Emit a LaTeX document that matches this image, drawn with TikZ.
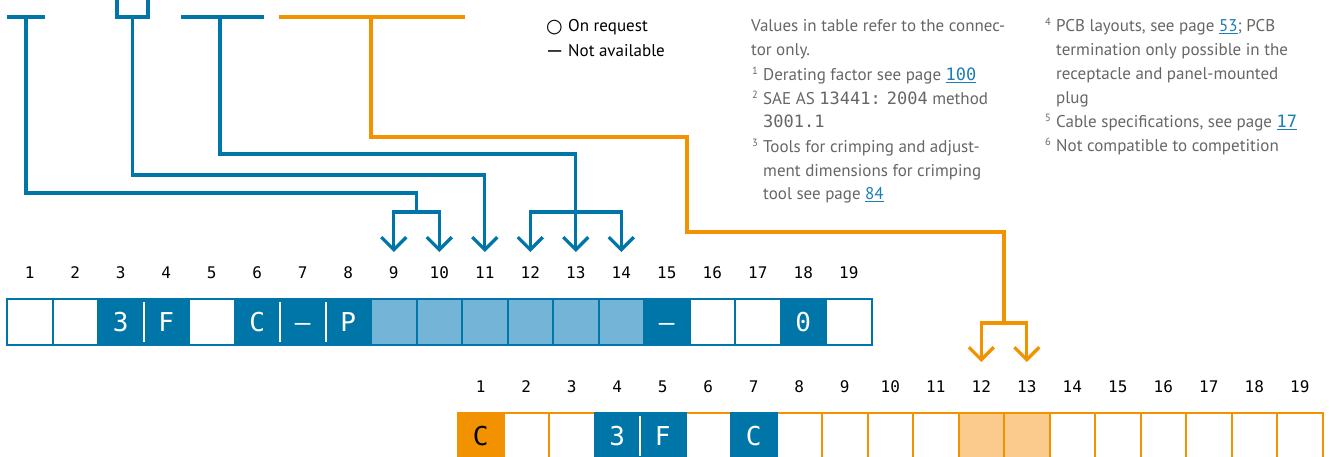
\documentclass[tikz,border=0pt]{standalone}
\usepackage{fontspec}
\setmainfont{PT Sans}
\newfontfamily\monofont{DejaVu Sans Mono}
\newfontfamily\symfont{DejaVu Sans}
\usetikzlibrary{arrows.meta}
\definecolor{dblue}{HTML}{0076A8}
\definecolor{lblue}{HTML}{74B4D6}
\definecolor{orng}{HTML}{F39200}
\definecolor{lorng}{HTML}{FACB8C}
\definecolor{gtext}{HTML}{666666}
\definecolor{lnk}{HTML}{1B7DB5}
\newcommand\myfnmark[1]{\makebox[11pt][l]{\raisebox{6.5pt}{\fontsize{10.5}{10.5}\selectfont #1}}}
\newcommand\mylink[1]{\textcolor{lnk}{\underline{#1}}}
\begin{document}
\begin{tikzpicture}[x=1pt,y=-1pt,
  conn/.style={line width=3.2pt},
  bconn/.style={conn,draw=dblue},
  oconn/.style={conn,draw=orng},
  arr/.style={-{Straight Barb[length=12.5pt,width=25pt,sharp]}},
  cell/.style={minimum width=45.5pt,minimum height=46pt,inner sep=0pt,outer sep=0pt,
    line width=2pt,font=\monofont\fontsize{26}{26}\selectfont,text=white,
    text height=19pt,text depth=0pt},
  bcell/.style={cell,draw=dblue},
  ocell/.style={cell,draw=orng},
  num/.style={inner sep=0pt,font=\monofont\fontsize{16}{16}\selectfont,text=black},
  sep/.style={draw=white,line width=2pt},
  fn/.style={anchor=base west,inner sep=0pt,text=gtext,font=\fontsize{17}{19}\selectfont},
  leg/.style={anchor=base west,inner sep=0pt,text=black,font=\fontsize{17}{19}\selectfont}
]
\useasboundingbox (0,0) rectangle (1330,457);
\clip (0,0) rectangle (1330,457);

% ---------- row 1 ----------
\foreach \i/\f/\t in {1/white/{},2/white/{},3/dblue/3,4/dblue/F,5/white/{},6/dblue/C,
  7/dblue/–,8/dblue/P,9/lblue/{},10/lblue/{},11/lblue/{},12/lblue/{},13/lblue/{},
  14/lblue/{},15/dblue/–,16/white/{},17/white/{},18/dblue/0,19/white/{}}{
  \node[bcell,fill=\f] (r1c\i) at ({7+45.5*(\i-0.5)},322) {\t};
  \node[num] (n1x\i) at ({7+45.5*(\i-0.5)},273) {\i};
}
\draw[sep] ([yshift=-3pt]r1c3.north east) -- ([yshift=3pt]r1c3.south east);
\draw[sep] ([yshift=-3pt]r1c6.north east) -- ([yshift=3pt]r1c6.south east);
\draw[sep] ([yshift=-3pt]r1c7.north east) -- ([yshift=3pt]r1c7.south east);

% ---------- row 2 ----------
\foreach \i/\f in {1/orng,2/white,3/white,6/white,8/white,9/white,10/white,11/white,
  12/lorng,13/lorng,14/white,15/white,16/white,17/white,18/white,19/white}{
  \node[ocell,fill=\f] (r2c\i) at ({458+45.5*(\i-0.5)},436) {};
}
\node[cell,text=black] (r2t1) at (r2c1) {C};
\foreach \i/\t in {4/3,5/F,7/C}{
  \node[bcell,fill=dblue] (r2c\i) at ({458+45.5*(\i-0.5)},436) {\t};
}
\foreach \i in {1,...,19}{
  \node[num] (n2x\i) at ({458+45.5*(\i-0.5)},387) {\i};
}
\draw[sep] ([yshift=-3pt]r2c4.north east) -- ([yshift=3pt]r2c4.south east);

% ---------- top brackets ----------
\coordinate (tA) at (26,17);
\coordinate (tB) at (132.5,17);
\coordinate (tC) at (220,17);
\coordinate (tD) at (371,17);
\draw[bconn] (7,17) -- (45,17);
\draw[bconn] (117,-5) -- (117,17) -- (148,17) -- (148,-5);
\draw[bconn] (181,17) -- (264,17);
\draw[oconn] (279,17) -- (465,17);

% arrow tips
\foreach \i in {9,...,14}{
  \coordinate (a\i) at ({7+45.5*(\i-0.5)},252);
}
\coordinate (o12) at ({458+45.5*11.5},362);
\coordinate (o13) at ({458+45.5*12.5},362);

% blue connector 1 -> 9,10
\coordinate (j1) at (416.5,193);
\coordinate (k1) at (416.5,212);
\draw[bconn] (tA) |- (j1) -- (k1);
\draw[bconn,arr] (k1) -| (a9);
\draw[bconn,arr] (k1) -| (a10);

% blue connector 2 -> 11
\coordinate (j2) at ({7+45.5*10.5},175);
\draw[bconn,arr] (tB) |- (j2) -- (a11);

% blue connector 3 -> 12,13,14
\coordinate (j3) at ({7+45.5*12.5},154);
\coordinate (k3) at ({7+45.5*12.5},212);
\draw[bconn,arr] (tC) |- (j3) -- (a13);
\draw[bconn,arr] (k3) -| (a12);
\draw[bconn,arr] (k3) -| (a14);

% orange connector -> 12,13 of row 2
\coordinate (j4) at (687,137);
\coordinate (j5) at (1004,232);
\coordinate (k4) at (1004,323);
\draw[oconn] (tD) |- (j4) |- (j5) -- (k4);
\draw[oconn,arr] (k4) -| (o12);
\draw[oconn,arr] (k4) -| (o13);

% ---------- legend ----------
\node[leg,font=\symfont\fontsize{19}{19}\selectfont] (lgs1) at (546,33) {○};
\node[leg] (lg1) at (568,32) {On request};
\node[leg,font=\monofont\fontsize{22}{22}\selectfont] (lgs2) at (548,58) {–};
\node[leg] (lg2) at (568,57) {Not available};

% ---------- footnotes ----------
\node[fn] (fA1) at (751,32) {Values in table refer to the connec-};
\node[fn] (fA2) at (751,56) {tor only.};
\node[fn] (fA3) at (752,81) {\myfnmark{1}Derating factor see page \mylink{{\monofont 100}}};
\node[fn] (fA4) at (752,105) {\myfnmark{2}SAE AS {\monofont 13441:} {\monofont 2004} method};
\node[fn] (fA5) at (763,128) {{\monofont 3001.1}};
\node[fn] (fA6) at (752,153) {\myfnmark{3}Tools for crimping and adjust-};
\node[fn] (fA7) at (763,177) {ment dimensions for crimping};
\node[fn] (fA8) at (763,200) {tool see page \mylink{84}};

\node[fn] (fB1) at (1045,32) {\myfnmark{4}PCB layouts, see page \mylink{53}; PCB};
\node[fn] (fB2) at (1056,56) {termination only possible in the};
\node[fn] (fB3) at (1056,80) {receptacle and panel-mounted};
\node[fn] (fB4) at (1056,104) {plug};
\node[fn] (fB5) at (1045,128) {\myfnmark{5}Cable specifications, see page \mylink{{\monofont 17}}};
\node[fn] (fB6) at (1045,152) {\myfnmark{6}Not compatible to competition};
\end{tikzpicture}
\end{document}
